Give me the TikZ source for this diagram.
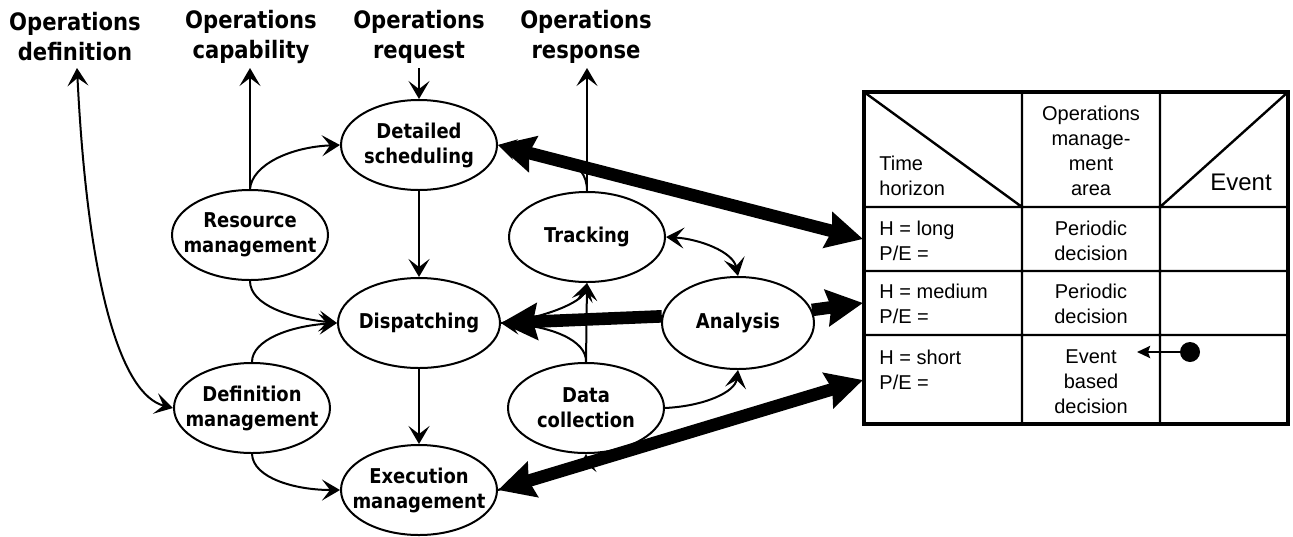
\documentclass[tikz,border=0pt]{standalone}
\usepackage{fontspec}
\setmainfont{Liberation Sans}
\newfontfamily\dvs[FakeStretch=0.88]{DejaVu Sans}
\usetikzlibrary{arrows.meta,shapes.geometric}
\begin{document}
\begin{tikzpicture}[x=0.5pt,y=-0.5pt,
  proc/.style={ellipse, draw, line width=1pt, minimum width=78pt, minimum height=45pt,
    inner xsep=-14pt, inner ysep=0pt, align=center, font=\dvs\bfseries\fontsize{10.2}{12.5}\selectfont},
  toplbl/.style={align=center, inner sep=0pt, font=\dvs\bfseries\fontsize{12}{15}\selectfont},
  flow/.style={line width=1pt, -{Stealth[length=9pt,width=10.5pt,inset=4pt]}},
  flowboth/.style={line width=1pt, {Stealth[length=9pt,width=10.5pt,inset=4pt]}-{Stealth[length=9pt,width=10.5pt,inset=4pt]}},
  big/.style={line width=6.3pt, -{Stealth[length=18pt,width=18pt,inset=2pt]}},
  bigboth/.style={line width=6.3pt, {Stealth[length=18pt,width=18pt,inset=2pt]}-{Stealth[length=18pt,width=18pt,inset=2pt]}},
  tcell/.style={inner sep=0pt, font=\fontsize{10}{12.5}\selectfont},
  grid/.style={line width=1.2pt},
]
\useasboundingbox (0,0) rectangle (1293,536);

% top labels
\node[toplbl] (lOD) at (75,37) {Operations\\definition};
\node[toplbl] (lOC) at (251,37) {Operations\\capability};
\node[toplbl] (lORq) at (419,37) {Operations\\request};
\node[toplbl] (lORs) at (586,37) {Operations\\response};
\coordinate (defTip) at (77,68);
\coordinate (capTip) at (250,68);
\coordinate (reqTip) at (419,68);
\coordinate (respTip) at (587,68);

% processes
\node[proc] (ds) at (419,145) {Detailed\\scheduling};
\node[proc] (rm) at (250,235) {Resource\\management};
\node[proc] (tr) at (587,237) {Tracking};
\node[proc, minimum width=81pt] (disp) at (419,323) {Dispatching};
\node[proc, minimum width=76pt, minimum height=46pt] (an) at (738,323) {Analysis};
\node[proc] (dm) at (252,408) {Definition\\management};
\node[proc] (dc) at (586,408) {Data\\collection};
\node[proc] (em) at (419,490) {Execution\\management};

% table
\draw[grid] (1022,92) -- (1022,424) (1160,92) -- (1160,424)
  (864,207) -- (1288,207) (864,271) -- (1288,271) (864,335) -- (1288,335)
  (864,92) -- (1022,207) (1160,207) -- (1288,92);
\draw[line width=2.4pt] (864,92) rectangle (1288,424);
\node[tcell, anchor=west, align=left] (th) at (879,176) {Time\\horizon};
\node[tcell, align=center] (oma) at (1091,151) {Operations\\manage-\\ment\\area};
\node[tcell, font=\fontsize{12}{14}\selectfont] (evh) at (1241,182) {Event};
\node[tcell, anchor=west, align=left] (h1) at (879,240.5) {H = long\\P/E =};
\node[tcell, align=center] (p1) at (1091,240.5) {Periodic\\decision};
\node[tcell, anchor=west, align=left] (h2) at (879,304) {H = medium\\P/E =};
\node[tcell, align=center] (p2) at (1091,304) {Periodic\\decision};
\node[tcell, anchor=west, align=left] (h3) at (879,369.5) {H = short\\P/E =};
\node[tcell, align=center] (p3) at (1091,382) {Event\\based\\decision};
\node[circle, fill, inner sep=0pt, minimum size=10pt] (dot) at (1190,352) {};
\coordinate (evTip) at (1137,352);
\draw[line width=1.2pt, -{Stealth[length=6.5pt,width=6pt,inset=1pt]}] (dot) -- (evTip);
\coordinate (row1) at (863,239);
\coordinate (row2) at (863,303);
\coordinate (row3) at (863,380);

% thin connectors
\draw[flowboth] (defTip) .. controls (88,290) and (122,395) .. (dm.west);
\draw[flow] (rm.north) -- (capTip);
\draw[flow] (reqTip) -- (ds.north);
\draw[flow] (tr.north) -- (respTip);
\draw[flow] (rm.north) .. controls (252,165) and (290,147) .. (ds.west);
\draw[flow] (ds.south) -- (disp.north);
\draw[flow] (rm.south) .. controls (250,305) and (290,318) .. (disp.west);
\draw[flow] (dm.north) .. controls (252,340) and (290,326) .. (disp.west);
\draw[flow] (dm.south) .. controls (253,478) and (295,490) .. (em.west);
\draw[flow] (disp.south) -- (em.north);
\draw[flow] (dc.north) -- (tr.south);
\draw[flow] (dc.north) .. controls (587,340) and (550,326) .. (disp.east);
\draw[flow] (disp.east) .. controls (545,318) and (582,302) .. (tr.south);
\draw[flow] (tr.north) .. controls (587,174) and (578,166) .. (568,163) -- (ds.east);
\draw[flow] (em.east) -- (575,467) .. controls (582,465) and (586,462) .. (dc.south);
\draw[flow] (dc.east) .. controls (705,406) and (735,392) .. (an.south);
\draw[flowboth] (tr.east) .. controls (700,239) and (733,252) .. (an.north);

% thick connectors
\draw[bigboth] (ds.east) -- (row1);
\draw[big] (an.175) -- (disp.east);
\draw[big] (an.10) -- (row2);
\draw[bigboth] (em.east) -- (row3);
\end{tikzpicture}
\end{document}
